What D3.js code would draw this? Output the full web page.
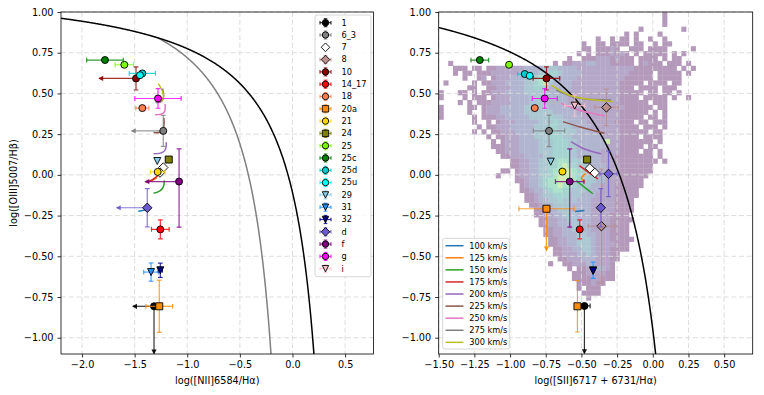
<!DOCTYPE html>
<html>
<head>
<meta charset="utf-8">
<script src="https://cdn.jsdelivr.net/npm/d3@7/dist/d3.min.js"></script>
<style>
  body { margin: 0; background: #fff; }
  svg text { font-family: "DejaVu Sans", sans-serif; fill: #000; }
</style>
</head>
<body>
<script>
// ---------------- data ----------------
const objects = ['1','6_3','7','8','10','14_17','18','20a','21','24','25','25c','25d','25u','29','31','32','d','f','g','i']
const objColors = {
  '1':'#000000','6_3':'#808080','7':'#ffffff','8':'#bc8f8f','10':'#8b0000','14_17':'#ff0000',
  '18':'#ff7f50','20a':'#ff8c00','21':'#ffd700','24':'#808000','25':'#7cfc00','25c':'#008000',
  '25d':'#00ced1','25u':'#00ffff','29':'#87ceeb','31':'#1e90ff','32':'#000080','d':'#6a5acd',
  'f':'#800080','g':'#ff00ff','i':'#ffc0cb'
}
const objMarkers = {
  '1':'o','6_3':'o','7':'D','8':'D','10':'o','14_17':'o','18':'o','20a':'s','21':'o','24':'s',
  '25':'o','25c':'o','25d':'o','25u':'o','29':'v','31':'v','32':'v','d':'D','f':'o','g':'o','i':'v'
}

const oiiiTicks = [-1, -0.75, -0.5, -0.25, 0, 0.25, 0.5, 0.75, 1]
const niiTicks = [-2, -1.5, -1, -0.5, 0, 0.5]
const siiTicks = [-1.5, -1.25, -1, -0.75, -0.5, -0.25, 0, 0.25, 0.5]

// [NII]/Ha vs [OIII]/Hb  (xe/ye = error, xl/yl = upper-limit arrow length)
const niiPoints = [
  {id:'1', x:-1.316, y:-0.807, xl:0.2, yl:0.29},
  {id:'6_3', x:-1.228, y:0.27, ye:0.095, xl:0.3},
  {id:'7', x:-1.228, y:0.045},
  {id:'7', x:-1.259, y:0.014},
  {id:'10', x:-1.487, y:0.592, ye:0.071, xl:0.35},
  {id:'14_17', x:-1.256, y:-0.335, xe:0.084, ye:0.058},
  {id:'18', x:-1.427, y:0.41, xe:0.062},
  {id:'20a', x:-1.266, y:-0.807, xe:0.127, ye:0.16},
  {id:'21', x:-1.281, y:0.018, xe:0.07},
  {id:'24', x:-1.176, y:0.094},
  {id:'25', x:-1.598, y:0.676, xe:0.087},
  {id:'25c', x:-1.782, y:0.705, xe:0.174},
  {id:'25d', x:-1.427, y:0.623, xe:0.125},
  {id:'25u', x:-1.449, y:0.612},
  {id:'29', x:-1.285, y:0.085},
  {id:'31', x:-1.344, y:-0.597, xe:0.07, ye:0.056},
  {id:'32', x:-1.256, y:-0.586, xe:0.02, ye:0.044},
  {id:'d', x:-1.38, y:-0.202, ye:0.117, xl:0.29},
  {id:'f', x:-1.078, y:-0.041, ye:[0.28, 0.2], xl:0.32},
  {id:'g', x:-1.278, y:0.469, xe:0.22, ye:0.06}
]

// [SII]/Ha vs [OIII]/Hb
const siiPoints = [
  {id:'1', x:-0.479, y:-0.805, xe:0.04, yl:0.29},
  {id:'6_3', x:-0.727, y:0.27, xe:0.11, ye:0.097},
  {id:'7', x:-0.441, y:0.04},
  {id:'7', x:-0.406, y:0.012},
  {id:'8', x:-0.325, y:0.414, xe:0.082, ye:0.112},
  {id:'8', x:-0.36, y:-0.315, xe:0.093, ye:0.35},
  {id:'10', x:-0.745, y:0.592, xe:0.093, ye:0.071},
  {id:'14_17', x:-0.512, y:-0.335, ye:0.058},
  {id:'18', x:-0.827, y:0.41},
  {id:'20a', x:-0.745, y:-0.208, xe:0.193, yl:0.256},
  {id:'20a', x:-0.528, y:-0.807, ye:0.158},
  {id:'21', x:-0.633, y:0.02},
  {id:'24', x:-0.46, y:0.094},
  {id:'25', x:-1.007, y:0.676},
  {id:'25c', x:-1.212, y:0.705, xe:0.062},
  {id:'25d', x:-0.897, y:0.619, xe:0.05},
  {id:'25u', x:-0.862, y:0.608},
  {id:'29', x:-0.715, y:0.081},
  {id:'31', x:-0.418, y:-0.586, ye:0.05},
  {id:'32', x:-0.418, y:-0.59},
  {id:'d', x:-0.31, y:0.006, xe:0.06, ye:0.14},
  {id:'d', x:-0.364, y:-0.202, ye:0.117},
  {id:'f', x:-0.582, y:-0.041, xe:0.1, ye:[0.28, 0.2]},
  {id:'g', x:-0.757, y:0.469, xe:0.088, ye:0.06},
  {id:'i', x:-0.547, y:0.425, xe:0.07, ye:0.065}
]

// shock model tracks, one per shock velocity
const shockVel = [100, 125, 150, 175, 200, 225, 250, 275, 300]
const shockNii = [
  [[-1.465,-0.223],[-1.385,-0.214]],
  [[-1.40,-0.042],[-1.34,-0.035],[-1.29,-0.018]],
  [[-1.32,-0.113],[-1.26,-0.098],[-1.228,-0.075],[-1.218,-0.035]],
  [[-1.39,-0.046],[-1.33,-0.03],[-1.28,-0.005]],
  [[-1.32,0.129],[-1.235,0.138],[-1.205,0.16],[-1.2,0.2]],
  [[-1.32,0.26],[-1.26,0.262],[-1.228,0.28],[-1.222,0.35]],
  [[-1.306,0.369],[-1.24,0.374],[-1.215,0.39],[-1.21,0.435]],
  [[-1.3,0.445],[-1.245,0.45],[-1.225,0.48],[-1.235,0.53]],
  [[-1.25,0.45],[-1.225,0.48],[-1.24,0.52],[-1.275,0.56]]
]
const shockSii = [
  [[-0.544,-0.225],[-0.479,-0.219]],
  [[-0.47,0.008],[-0.5,-0.02],[-0.475,-0.045]],
  [[-0.537,-0.035],[-0.48,-0.075],[-0.42,-0.116]],
  [[-0.514,0.057],[-0.45,0.015],[-0.385,-0.025]],
  [[-0.573,0.204],[-0.479,0.159],[-0.362,0.129]],
  [[-0.63,0.327],[-0.502,0.292],[-0.338,0.255]],
  [[-0.643,0.439],[-0.502,0.394],[-0.338,0.363]],
  [[-0.677,0.521],[-0.526,0.472],[-0.292,0.46]],
  [[-0.713,0.553],[-0.573,0.486],[-0.28,0.451]]
]

// 2d histogram of the comparison sample ([SII] panel), one string per row from the top,
// columns in groups of 10 split by '|', '.' = empty bin, 1..8 = density level
const histX0 = -1.5, histBinX = 1 / 30, histY0 = 1.0, histBinY = 0.03
const histRows = [
  "..........|..........|..........|..........|.......1..",
  "..........|..........|..........|..........|.......1..",
  "..........|..........|..........|..........|.......1..",
  "..........|..........|..........|..........|..1.......|.1.....",
  "..........|..........|..........|.........1|.1....1...",
  "..........|..........|..........|...1..1.11|.1..1..1..",
  "..........|..........|..........|1..11.1111|.11..1.11.",
  "..........|..........|..........|11.11121..|111.1111..|...1...",
  "..........|..........|.........1|.1.1112121|.1.11111.1|.1.....",
  "..........|..........|.......1..|1112221211|1.1111.1.1|1......",
  "..1.......|..........|....1.1122|2332221111|1.12111.11|1.1....",
  "...111.11.|1122222233|3344433332|2222222222|2111111111|.1.1...",
  "...1.11.11|1222222333|3445543333|2222222222|11111.1111|1.1....",
  ".....1..12|.122233334|5676433332|2222222221|11111.1111|1......",
  ".1.....1.1|1222333344|5674333322|2222222211|111.1111.1|1......",
  "......11..|1122233344|5553333322|2222222211|1.1111.111",
  "1...11.1.1|1222333344|4443333222|2222222211|111.11.11.|1......",
  "1....1.111|.122233334|4433333222|2222222211|11.11111.1|..1....",
  "....1.1.11|1222233334|4433333222|2222222211|1111.111..",
  "1.....11.1|2223333344|4443333332|2222222221|11111.11..",
  "1.....1..1|2223333344|4444333332|2222222211|1111.1.1..",
  "1......1.1|1122333334|4445443333|2222222211|111.11.1..",
  ".......1..|1.12223333|3444544333|3222222111|1.11.111..",
  "........1.|1122233333|4445544433|3322222211|11.111.1..",
  ".......1.1|.112223333|4445545443|3332222211|1111.11...",
  "..........|1.11222333|4445554433|3333222211|11.1111...",
  "..........|.1.1222333|3444555443|3333372211|11111.1...",
  "..........|.111222333|3444555443|3333322211|111.11....",
  "..........|..11222333|3444555543|3333222211|11.11.1...",
  "..........|...1122233|3344555543|3333222111|11111.1...",
  "..........|.....11223|3445566554|4333222111|111111.1..",
  "..........|.....11223|3445567654|4433322211|11111.....",
  "..........|...11.1223|3445667765|5443322211|11111.....",
  "..........|..1...1223|3455677765|5443322211|1111......",
  "..........|......1123|3456677665|5443322211|111.......",
  "..........|.......123|3456676654|4433222111|111.......",
  "..........|.......112|3345665544|4333222111|11........",
  "..........|........11|2344555444|3332222111|11........",
  "..........|........11|2334454443|3322222111|1.........",
  "..........|.........1|1233444433|3322222111|1.........",
  "..........|..........|1123344433|3322222111|1.........",
  "..........|..........|1122334443|3322221111",
  "..........|..........|.112233443|3322221111|1.........",
  "..........|..........|.112233344|3322221111",
  "..........|..........|..11223344|3322221111",
  "..........|..........|..11223334|4332221111",
  "..........|..........|...1122334|4432221111|1.........",
  "..........|..........|...1122334|4432222111",
  "..........|..........|....112233|4432221111",
  "..........|..........|....112223|34322211..",
  "..........|..........|.....11222|33322211..",
  "..........|..........|...1..1122|2332221...",
  "..........|..........|.......1.1|1223321...",
  "..........|..........|........11|1222211...",
  "..........|..........|........11|1122111...",
  "..........|..........|.........1|11211.....",
  "..........|..........|.........1|.111......",
  "..........|..........|..........|1111......",
  "..........|..........|..........|.1........"
]
const histLevels = [0, 0.1, 0.22, 0.38, 0.52, 0.66, 0.82, 1.0]

// ---------------- drawing ----------------
const svg = d3.select('body').append('svg')
  .attr('width', 764).attr('height', 395)
  .style('display', 'block')
const defs = svg.append('defs')

const y = d3.scaleLinear().domain([-1.1, 1.0]).range([354, 12])
const xN = d3.scaleLinear().domain([-2.2, 0.77]).range([61, 373.5])
const xS = d3.scaleLinear().domain([-1.5, 0.7]).range([438.7, 752.7])

function makePanel(x, id) {
  const [x0, x1] = x.range()
  const [yb, yt] = y.range()
  defs.append('clipPath').attr('id', id)
    .append('rect').attr('x', x0).attr('y', yt).attr('width', x1 - x0).attr('height', yb - yt)
  const g = svg.append('g')
  return {
    x, x0, x1, yb, yt,
    hist: g.append('g').attr('clip-path', `url(#${id})`),
    grid: g.append('g'),
    curves: g.append('g').attr('clip-path', `url(#${id})`),
    points: g.append('g').attr('clip-path', `url(#${id})`),
    axes: g.append('g')
  }
}

function drawGrid(p, xt) {
  const gg = p.grid.attr('stroke', '#d9d9d9').attr('stroke-width', 0.9).attr('stroke-dasharray', '5,2.7')
  gg.selectAll('.gx').data(xt).join('line')
    .attr('x1', d => p.x(d)).attr('x2', d => p.x(d)).attr('y1', p.yt).attr('y2', p.yb)
  gg.selectAll('.gy').data(oiiiTicks).join('line')
    .attr('x1', p.x0).attr('x2', p.x1).attr('y1', d => y(d)).attr('y2', d => y(d))
}

function drawAxes(p, xt, fmt, label) {
  const ax = d3.axisBottom(p.x).tickValues(xt).tickFormat(d3.format(fmt)).tickSize(3.5).tickPadding(4).tickSizeOuter(0)
  const ay = d3.axisLeft(y).tickValues(oiiiTicks).tickFormat(d3.format('.2f')).tickSize(3.5).tickPadding(4).tickSizeOuter(0)
  const gx = p.axes.append('g').attr('transform', `translate(0,${p.yb})`).call(ax)
  const gy = p.axes.append('g').attr('transform', `translate(${p.x0},0)`).call(ay)
  for (const a of [gx, gy]) {
    a.select('.domain').remove()
    a.selectAll('line').attr('stroke', '#000').attr('stroke-width', 0.8)
    a.selectAll('text').attr('font-size', 9.7).attr('font-family', '"DejaVu Sans", sans-serif')
  }
  p.axes.append('rect')
    .attr('x', p.x0).attr('y', p.yt).attr('width', p.x1 - p.x0).attr('height', p.yb - p.yt)
    .attr('fill', 'none').attr('stroke', '#000').attr('stroke-width', 0.8)
  p.axes.append('text')
    .attr('x', (p.x0 + p.x1) / 2).attr('y', 384)
    .attr('text-anchor', 'middle').attr('font-size', 9.7)
    .text(label)
}

function markerPath(m, s) {
  if (m === 's') return `M${-s},${-s}H${s}V${s}H${-s}Z`
  if (m === 'D') { const d = s * 1.35; return `M0,${-d}L${d},0L0,${d}L${-d},0Z` }
  if (m === 'v') return `M${-s},${-s}L${s},${-s}L0,${s}Z`
  return `M${s},0A${s},${s} 0 1,1 ${-s},0A${s},${s} 0 1,1 ${s},0Z`
}

function errorBars(g, px, py, xe, ye, color, cap) {
  const eg = g.append('g').attr('stroke', color).attr('stroke-width', 1.2).attr('stroke-opacity', 0.8)
  if (xe) {
    eg.append('line').attr('x1', px[0]).attr('x2', px[1]).attr('y1', py[2]).attr('y2', py[2])
    for (const v of [px[0], px[1]])
      eg.append('line').attr('x1', v).attr('x2', v).attr('y1', py[2] - cap).attr('y2', py[2] + cap)
  }
  if (ye) {
    eg.append('line').attr('x1', px[2]).attr('x2', px[2]).attr('y1', py[0]).attr('y2', py[1])
    for (const v of [py[0], py[1]])
      eg.append('line').attr('x1', px[2] - cap).attr('x2', px[2] + cap).attr('y1', v).attr('y2', v)
  }
}

function drawPoints(p, pts) {
  const ms = 3.5
  for (const d of pts) {
    const c = objColors[d.id]
    const cx = p.x(d.x), cy = y(d.y)
    const g = p.points.append('g')
    const ye = d.ye === undefined ? null : (Array.isArray(d.ye) ? d.ye : [d.ye, d.ye])
    errorBars(g,
      d.xe ? [p.x(d.x - d.xe), p.x(d.x + d.xe), cx] : [0, 0, cx],
      ye ? [y(d.y - ye[0]), y(d.y + ye[1]), cy] : [0, 0, cy],
      !!d.xe, !!ye, c, 2.4)
    if (d.xl) {
      const ex = p.x(d.x - d.xl)
      g.append('line').attr('x1', cx).attr('x2', ex).attr('y1', cy).attr('y2', cy)
        .attr('stroke', c).attr('stroke-width', 1.2).attr('stroke-opacity', 0.8)
      g.append('path').attr('d', `M${ex - 1},${cy}L${ex + 4},${cy - 2.6}L${ex + 4},${cy + 2.6}Z`)
        .attr('fill', c).attr('fill-opacity', 0.9)
    }
    if (d.yl) {
      const ey = y(d.y - d.yl)
      g.append('line').attr('x1', cx).attr('x2', cx).attr('y1', cy).attr('y2', ey)
        .attr('stroke', c).attr('stroke-width', 1.2).attr('stroke-opacity', 0.8)
      g.append('path').attr('d', `M${cx},${ey + 1}L${cx - 2.6},${ey - 4}L${cx + 2.6},${ey - 4}Z`)
        .attr('fill', c).attr('fill-opacity', 0.9)
    }
    g.append('path').attr('d', markerPath(objMarkers[d.id], ms))
      .attr('transform', `translate(${cx},${cy})`)
      .attr('fill', c).attr('stroke', '#000').attr('stroke-width', 0.9)
  }
}

function drawShocks(p, tracks) {
  const line = d3.line().x(d => p.x(d[0])).y(d => y(d[1])).curve(d3.curveCatmullRom.alpha(0.5))
  tracks.forEach((t, i) => {
    p.curves.append('path').attr('d', line(t))
      .attr('fill', 'none').attr('stroke', d3.schemeCategory10[i]).attr('stroke-width', 1.5)
  })
}

function drawLimitCurve(p, xs, f, color) {
  const line = d3.line().x(d => p.x(d)).y(d => y(f(d)))
  p.curves.append('path').attr('d', line(xs))
    .attr('fill', 'none').attr('stroke', color).attr('stroke-width', 1.5)
}

// ---- left panel: [NII]
const pn = makePanel(xN, 'clipN')
drawGrid(pn, niiTicks)
drawLimitCurve(pn, d3.range(-1.28, 0.045, 0.002), x => 0.61 / (x - 0.05) + 1.3, '#808080')
drawLimitCurve(pn, d3.range(-2.2, 0.36, 0.004), x => 0.61 / (x - 0.47) + 1.19, '#000')
drawShocks(pn, shockNii)
drawPoints(pn, niiPoints)
drawAxes(pn, niiTicks, '.1f', 'log([NII]6584/Hα)')
svg.append('text')
  .attr('transform', 'translate(16.5,183) rotate(-90)')
  .attr('text-anchor', 'middle').attr('font-size', 9.7)
  .text('log([OIII]5007/Hβ)')

// ---- right panel: [SII]
const ps = makePanel(xS, 'clipS')
const cellW = xS(histBinX) - xS(0), cellH = y(0) - y(histBinY)
const groupLen = [10, 10, 10, 10, 10, 7]
const hg = ps.hist.append('g').attr('opacity', 0.4)
histRows.forEach((row, r) => {
  const cells = row.split('|').map((s, k) => s.padEnd(groupLen[k], '.')).join('')
  ;[...cells].forEach((ch, col) => {
    if (ch === '.') return
    hg.append('rect')
      .attr('x', xS(histX0 + col * histBinX)).attr('y', y(histY0 - r * histBinY))
      .attr('width', cellW + 0.3).attr('height', cellH + 0.3)
      .attr('fill', d3.interpolateViridis(histLevels[+ch - 1]))
  })
})
drawGrid(ps, siiTicks)
drawLimitCurve(ps, d3.range(-1.5, 0.2, 0.003), x => 0.72 / (x - 0.32) + 1.30, '#000')
drawShocks(ps, shockSii)
drawPoints(ps, siiPoints)
drawAxes(ps, siiTicks, '.2f', 'log([SII]6717 + 6731/Hα)')

// ---- legends
function legendBox(x, yTop, w, h) {
  svg.append('rect').attr('x', x).attr('y', yTop).attr('width', w).attr('height', h)
    .attr('rx', 2).attr('fill', '#fff').attr('fill-opacity', 0.85)
    .attr('stroke', '#cccccc').attr('stroke-width', 0.8)
}

legendBox(315, 15, 56, 261.7)
objects.forEach((id, i) => {
  const ly = 22.7 + i * 12.3, lx = 325.5
  const g = svg.append('g')
  errorBars(g, [lx - 5.5, lx + 5.5, lx], [ly + 4, ly - 4, ly], true, true, objColors[id], 1.8)
  g.append('path').attr('d', markerPath(objMarkers[id], 3.2))
    .attr('transform', `translate(${lx},${ly})`)
    .attr('fill', objColors[id]).attr('stroke', '#000').attr('stroke-width', 0.9)
  svg.append('text').attr('x', 341.5).attr('y', ly).attr('dy', '0.35em')
    .attr('font-size', 8.2).text(id)
})

legendBox(442.7, 238.3, 66.6, 110.7)
shockVel.forEach((v, i) => {
  const ly = 245.7 + i * 12.08
  svg.append('line').attr('x1', 445.5).attr('x2', 463.5).attr('y1', ly).attr('y2', ly)
    .attr('stroke', d3.schemeCategory10[i]).attr('stroke-width', 1.5)
  svg.append('text').attr('x', 469.3).attr('y', ly).attr('dy', '0.35em')
    .attr('font-size', 8.2).text(`${v} km/s`)
})
</script>
</body>
</html>
